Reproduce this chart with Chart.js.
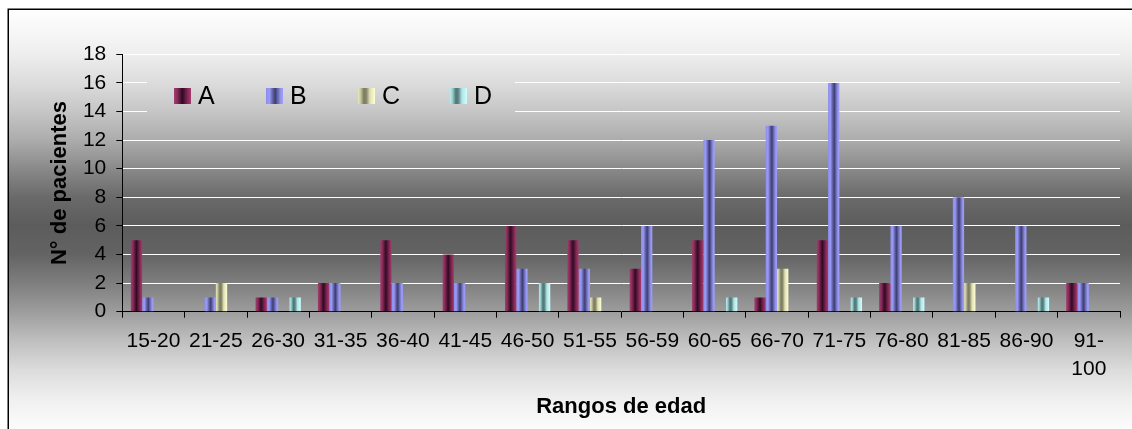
<!DOCTYPE html>
<html>
<head>
<meta charset="utf-8">
<script src="https://cdn.jsdelivr.net/npm/chart.js@4.4.0/dist/chart.umd.min.js"></script>
<style>
  html, body { margin: 0; padding: 0; background: #fff; overflow: hidden; }
  #wrap { position: absolute; left: 0; top: 0; width: 1132px; height: 429px; }
</style>
</head>
<body>
<div id="wrap"><canvas id="chart" width="1132" height="429"></canvas></div>
<script>
// Datos
var rangos = ['15-20', '21-25', '26-30', '31-35', '36-40', '41-45', '46-50', '51-55',
  '56-59', '60-65', '66-70', '71-75', '76-80', '81-85', '86-90', ['91-', '100']];
var serieA = [5, 0, 1, 2, 5, 4, 6, 5, 3, 5, 1, 5, 2, 0, 0, 2];
var serieB = [1, 1, 1, 2, 2, 2, 3, 3, 6, 12, 13, 16, 6, 8, 6, 2];
var serieC = [0, 2, 0, 0, 0, 0, 0, 1, 0, 0, 3, 0, 0, 2, 0, 0];
var serieD = [0, 0, 1, 0, 0, 0, 2, 0, 0, 1, 0, 1, 1, 0, 1, 0];
var nombres = ['A', 'B', 'C', 'D'];
var yMin = 0, yMax = 18, yPaso = 2;

// Sombreado "cilindro" de cada serie (posicion relativa dentro de la barra)
var sombras = [
  [[0, '#a0406d'], [0.2, '#8a2a58'], [0.4, '#4a1434'], [0.5, '#340a22'], [0.65, '#5a1a3e'], [0.85, '#8f2c5c'], [1, '#a23c6c']],
  [[0, '#8c8ce8'], [0.2, '#9a9afa'], [0.42, '#5a5a9a'], [0.55, '#3e3e72'], [0.7, '#6a6ab0'], [0.88, '#9898f4'], [1, '#9c9cff']],
  [[0, '#e8e8bc'], [0.15, '#c8c8a0'], [0.35, '#7a7a60'], [0.5, '#8a8a6c'], [0.7, '#e0e0b8'], [1, '#ffffd0']],
  [[0, '#b8eeee'], [0.15, '#9acccc'], [0.35, '#4e7474'], [0.5, '#5e8888'], [0.7, '#b4e4e4'], [1, '#ccffff']]
];
var fondo = [[0, '#ffffff'], [0.107, '#eeeeee'], [0.176, '#dcdcdc'], [0.243, '#c6c6c6'], [0.312, '#acacac'],
  [0.379, '#8a8a8a'], [0.448, '#6a6a6a'], [0.514, '#5c5c5c'], [0.583, '#636363'], [0.652, '#7e7e7e'],
  [0.719, '#9c9c9c'], [0.788, '#bebebe'], [0.86, '#dcdcdc'], [0.931, '#f0f0f0'], [1, '#fcfcfc']];

var FONT = '"Liberation Sans", Arial, sans-serif';
Chart.defaults.font.family = FONT;
Chart.defaults.color = '#000';

function degradadoH(ctx, x, w, stops) {
  var g = ctx.createLinearGradient(x, 0, x + w, 0);
  stops.forEach(function (s) { g.addColorStop(s[0], s[1]); });
  return g;
}
function degradadoFondo(ctx) {
  var g = ctx.createLinearGradient(0, 9, 0, 429);
  fondo.forEach(function (s) { g.addColorStop(s[0], s[1]); });
  return g;
}

// Fondo + marco
var fondoPlugin = {
  id: 'fondo',
  beforeDraw: function (chart) {
    var ctx = chart.ctx;
    ctx.save();
    ctx.fillStyle = degradadoFondo(ctx);
    ctx.fillRect(8, 9, chart.width - 8, chart.height - 9);
    ctx.strokeStyle = '#000';
    ctx.lineWidth = 1.5;
    ctx.beginPath();
    ctx.moveTo(8.25, chart.height + 2);
    ctx.lineTo(8.25, 9.25);
    ctx.lineTo(chart.width + 2, 9.25);
    ctx.stroke();
    ctx.restore();
  }
};

// Sombreado de barras segun su posicion real
var sombraPlugin = {
  id: 'sombra',
  beforeDatasetsDraw: function (chart) {
    chart.data.datasets.forEach(function (ds, i) {
      chart.getDatasetMeta(i).data.forEach(function (bar) {
        var left = bar.x - bar.width / 2;
        bar.options = Object.assign({}, bar.options, {
          backgroundColor: degradadoH(chart.ctx, left, bar.width, sombras[i])
        });
      });
    });
  }
};

// Leyenda dentro del area del grafico
var leyendaPlugin = {
  id: 'leyenda',
  afterDatasetsDraw: function (chart) {
    var ctx = chart.ctx;
    ctx.save();
    ctx.fillStyle = degradadoFondo(ctx);
    ctx.fillRect(147, 64, 368, 64);
    ctx.font = '25px ' + FONT;
    ctx.textBaseline = 'middle';
    chart.data.datasets.forEach(function (ds, i) {
      var x = 174 + i * 92;
      ctx.fillStyle = degradadoH(ctx, x, 17, sombras[i]);
      ctx.fillRect(x, 88, 17, 16);
      ctx.fillStyle = '#000';
      ctx.fillText(ds.label, x + 24, 97);
    });
    ctx.restore();
  }
};

var series = [serieA, serieB, serieC, serieD];
new Chart(document.getElementById('chart'), {
  type: 'bar',
  data: {
    labels: rangos,
    datasets: series.map(function (d, i) {
      return { label: nombres[i], data: d, backgroundColor: sombras[i][3][1], borderWidth: 0,
        categoryPercentage: 0.7265, barPercentage: 1 };
    })
  },
  options: {
    responsive: false,
    animation: false,
    devicePixelRatio: 1,
    layout: { padding: { top: 54.3, right: 12, bottom: 0, left: 0 } },
    plugins: { legend: { display: false }, tooltip: { enabled: false } },
    scales: {
      x: {
        grid: { drawOnChartArea: false, drawTicks: true, tickLength: 6, color: '#000' },
        border: { display: true, color: '#000', width: 1 },
        ticks: { padding: 10, maxRotation: 0, autoSkip: false, color: '#000',
          font: { size: 21, lineHeight: 1.333 } },
        title: { display: true, text: 'Rangos de edad', color: '#000',
          font: { size: 22, weight: 'bold', lineHeight: 1.2 }, padding: { top: 0, bottom: 8.5 } },
        afterFit: function (s) { s.height = 117.3; }
      },
      y: {
        min: yMin, max: yMax,
        grid: { color: '#ffffff', lineWidth: 1, tickLength: 6, tickColor: '#000' },
        border: { display: true, color: '#000', width: 1 },
        ticks: { stepSize: yPaso, padding: 10, color: '#000', font: { size: 21 } },
        title: { display: true, text: 'N° de pacientes', color: '#000',
          font: { size: 22, weight: 'bold', lineHeight: 1.2 }, padding: { top: 46.8, bottom: 0 } },
        afterFit: function (s) { s.width = 122.3; }
      }
    }
  },
  plugins: [fondoPlugin, sombraPlugin, leyendaPlugin]
});
</script>
</body>
</html>
